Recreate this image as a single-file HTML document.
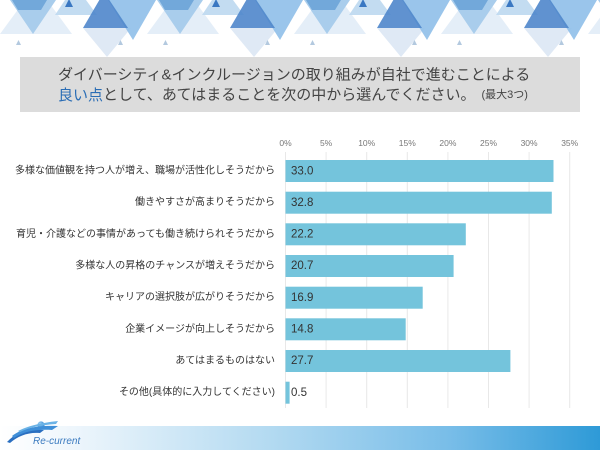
<!DOCTYPE html>
<html>
<head>
<meta charset="utf-8">
<style>
html,body{margin:0;padding:0;background:#fff;}
body{width:600px;height:450px;overflow:hidden;}
svg{display:block;}
.jp{font-family:"Liberation Sans","Noto Sans CJK JP",sans-serif;}
</style>
</head>
<body>
<svg width="600" height="450" viewBox="0 0 600 450" xmlns="http://www.w3.org/2000/svg">
  <defs>
    <g id="tri">
      <polygon points="0,34 36,-15 72,34" fill="#e4eef8"/>
      <polygon points="10,0 56,0 33,34" fill="#a9cdec"/>
      <polygon points="12,0 47,0 41,10 18,10" fill="#72a8da"/>
      <polygon points="55,15 75,-15 97,15" fill="#bcd8f0" opacity="0.9"/>
      <polygon points="65,7 69,-1 73,7" fill="#3b78c2"/>
      <polygon points="83,28 131,28 107,57" fill="#dfe9f5"/>
      <polygon points="108,0 156,0 133,40" fill="#8fbfe9" opacity="0.9"/>
      <polygon points="83,28 104,-8 128,28" fill="#4f86cb" opacity="0.9"/>
      <polygon points="16,45 18.5,40 21,45" fill="#b3c9df"/>
      <polygon points="118,45 120.5,40 123,45" fill="#b3c9df"/>
    </g>
    <linearGradient id="band" x1="0" y1="0" x2="1" y2="0">
      <stop offset="0" stop-color="#ffffff"/>
      <stop offset="0.12" stop-color="#eef6fc"/>
      <stop offset="0.45" stop-color="#b3daf1"/>
      <stop offset="0.75" stop-color="#78bde8"/>
      <stop offset="1" stop-color="#2e9ad7"/>
    </linearGradient>
    <radialGradient id="ball" cx="0.35" cy="0.35" r="0.7">
      <stop offset="0" stop-color="#9fd3f5"/>
      <stop offset="1" stop-color="#2b84d2"/>
    </radialGradient>
  </defs>

  <!-- header triangles -->
  <use href="#tri" x="0" y="0"/>
  <use href="#tri" x="147" y="0"/>
  <use href="#tri" x="294" y="0"/>
  <use href="#tri" x="441" y="0"/>
  <use href="#tri" x="588" y="0"/>

  <!-- title box -->
  <rect x="20" y="57" width="560" height="55" fill="#dcdcdc"/>
  <text class="jp" x="58" y="75" font-size="15" fill="#444" dominant-baseline="central">ダイバーシティ&amp;インクルージョンの取り組みが自社で進むことによる</text>
  <text class="jp" x="58" y="95" font-size="15" fill="#444" dominant-baseline="central"><tspan fill="#2a6db5">良い点</tspan>として、あてはまることを次の中から選んでください。<tspan font-size="11" dx="6">(最大3つ)</tspan></text>

  <!-- gridlines -->
  <g stroke="#e8e8e8" stroke-width="1">
    <line x1="285.5" y1="152" x2="285.5" y2="408"/>
    <line x1="326.1" y1="152" x2="326.1" y2="408"/>
    <line x1="366.7" y1="152" x2="366.7" y2="408"/>
    <line x1="407.3" y1="152" x2="407.3" y2="408"/>
    <line x1="447.9" y1="152" x2="447.9" y2="408"/>
    <line x1="488.5" y1="152" x2="488.5" y2="408"/>
    <line x1="529.1" y1="152" x2="529.1" y2="408"/>
    <line x1="569.7" y1="152" x2="569.7" y2="408"/>
  </g>
  <!-- tick labels -->
  <g class="jp" font-size="8.5" fill="#777" text-anchor="middle" dominant-baseline="central">
    <text x="285.5" y="143">0%</text>
    <text x="326.1" y="143">5%</text>
    <text x="366.7" y="143">10%</text>
    <text x="407.3" y="143">15%</text>
    <text x="447.9" y="143">20%</text>
    <text x="488.5" y="143">25%</text>
    <text x="529.1" y="143">30%</text>
    <text x="569.7" y="143">35%</text>
  </g>

  <!-- bars -->
  <g fill="#74c4dc">
    <rect x="285.5" y="160" width="268.0" height="22"/>
    <rect x="285.5" y="191.7" width="266.3" height="22"/>
    <rect x="285.5" y="223.3" width="180.3" height="22"/>
    <rect x="285.5" y="255" width="168.1" height="22"/>
    <rect x="285.5" y="286.7" width="137.2" height="22"/>
    <rect x="285.5" y="318.3" width="120.2" height="22"/>
    <rect x="285.5" y="350" width="224.9" height="22"/>
    <rect x="285.5" y="381.7" width="4.1" height="22"/>
  </g>
  <!-- values -->
  <g class="jp" font-size="11.5" fill="#333" dominant-baseline="central">
    <text x="291" y="171.5">33.0</text>
    <text x="291" y="203">32.8</text>
    <text x="291" y="234.5">22.2</text>
    <text x="291" y="266">20.7</text>
    <text x="291" y="298">16.9</text>
    <text x="291" y="329.5">14.8</text>
    <text x="291" y="361">27.7</text>
    <text x="291" y="393">0.5</text>
  </g>
  <!-- category labels -->
  <g class="jp" font-size="10" fill="#333" text-anchor="end" dominant-baseline="central">
    <text x="275" y="171">多様な価値観を持つ人が増え、職場が活性化しそうだから</text>
    <text x="275" y="202.7">働きやすさが高まりそうだから</text>
    <text x="275" y="234.3">育児・介護などの事情があっても働き続けられそうだから</text>
    <text x="275" y="266">多様な人の昇格のチャンスが増えそうだから</text>
    <text x="275" y="297.7">キャリアの選択肢が広がりそうだから</text>
    <text x="275" y="329.3">企業イメージが向上しそうだから</text>
    <text x="275" y="361">あてはまるものはない</text>
    <text x="275" y="392.7">その他(具体的に入力してください)</text>
  </g>

  <!-- footer band -->
  <rect x="0" y="426" width="600" height="24" fill="url(#band)"/>
  <!-- logo -->
  <circle cx="41" cy="425" r="3.6" fill="url(#ball)"/>
  <path d="M7,442 C16,432 30,428 44,430 L40,433 C28,432 18,436 10,443 Z" fill="#2a6fc0"/>
  <path d="M12,436 C22,428 38,425 58,426 L52,430 C38,429 24,431 14,438 Z" fill="#3f8fd8"/>
  <path d="M18,431 C28,426 40,423 58,421 L56,424 C42,425 30,427 20,432 Z" fill="#6bb3e6"/>
  <text x="33" y="444" font-family="Liberation Sans, sans-serif" font-style="italic" font-size="10" fill="#3a7abf">Re-current</text>
</svg>
</body>
</html>
